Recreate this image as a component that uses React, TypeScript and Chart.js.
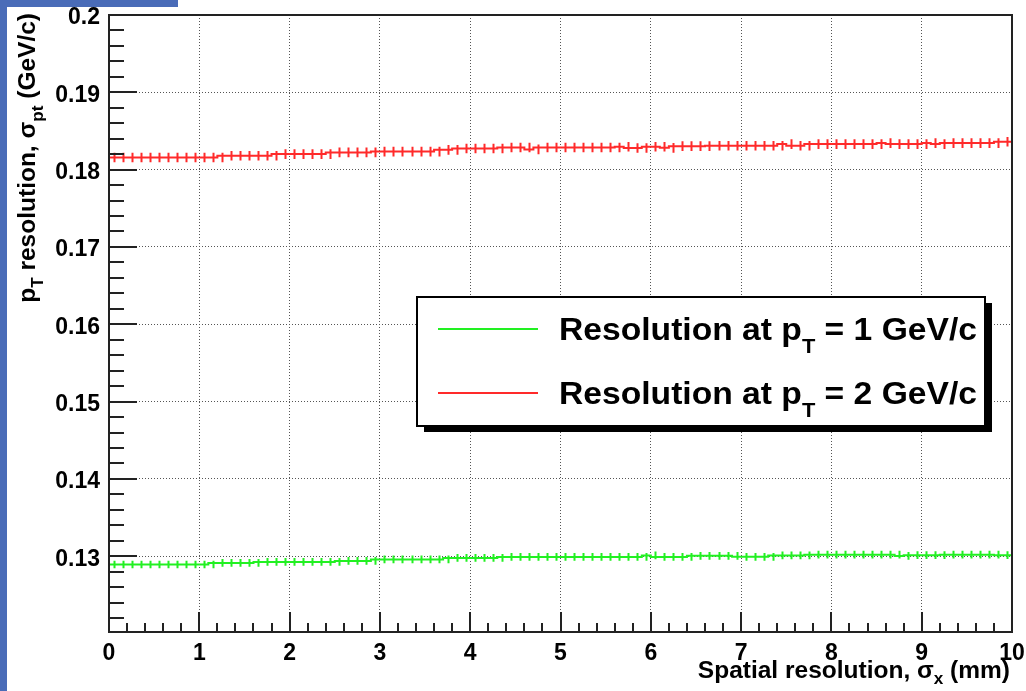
import React, { useEffect, useRef } from "react";
import { Chart, registerables } from "chart.js";

Chart.register(...registerables);

// ---------------- data ----------------
const binWidth = 0.1;
const xTicks = [0, 1, 2, 3, 4, 5, 6, 7, 8, 9, 10];
const xTickLabels = ["0", "1", "2", "3", "4", "5", "6", "7", "8", "9", "10"];
const yTicks = [0.13, 0.14, 0.15, 0.16, 0.17, 0.18, 0.19, 0.2];
const yTickLabels = ["0.13", "0.14", "0.15", "0.16", "0.17", "0.18", "0.19", "0.2"];
const legendLabels = ["1", "2"]; // p_T values in GeV/c

// Resolution at pT = 1 GeV/c (green), 100 bins from 0 to 10 mm
const green1GeV = [
  0.12893, 0.12893, 0.12893, 0.12893, 0.12893, 0.12893, 0.12893, 0.12893, 0.12893, 0.12893,
  0.12893, 0.12893, 0.12913, 0.12913, 0.12913, 0.12913, 0.12913, 0.12926, 0.12926, 0.12926,
  0.12926, 0.12926, 0.12926, 0.12926, 0.12926, 0.12926, 0.12939, 0.12939, 0.12939, 0.12939,
  0.12959, 0.12959, 0.12959, 0.12959, 0.12959, 0.12959, 0.12959, 0.12959, 0.12978, 0.12978,
  0.12978, 0.12978, 0.12978, 0.12978, 0.12991, 0.12991, 0.12991, 0.12991, 0.12991, 0.12991,
  0.12991, 0.12991, 0.12991, 0.12991, 0.12991, 0.12991, 0.12991, 0.12991, 0.12991, 0.12991,
  0.13010, 0.12991, 0.12991, 0.12991, 0.12991, 0.13006, 0.13006, 0.13006, 0.13006, 0.13006,
  0.12993, 0.12993, 0.12993, 0.12993, 0.13010, 0.13010, 0.13010, 0.13010, 0.13020, 0.13020,
  0.13020, 0.13020, 0.13020, 0.13020, 0.13020, 0.13020, 0.13020, 0.13020, 0.13004, 0.13013,
  0.13013, 0.13013, 0.13013, 0.13020, 0.13020, 0.13020, 0.13020, 0.13020, 0.13020, 0.13013,
];

// Resolution at pT = 2 GeV/c (red)
const red2GeV = [
  0.18158, 0.18158, 0.18158, 0.18158, 0.18158, 0.18158, 0.18158, 0.18158, 0.18158, 0.18158,
  0.18158, 0.18158, 0.18158, 0.18179, 0.18179, 0.18179, 0.18179, 0.18179, 0.18179, 0.18201,
  0.18201, 0.18201, 0.18201, 0.18201, 0.18201, 0.18223, 0.18223, 0.18223, 0.18223, 0.18223,
  0.18233, 0.18233, 0.18233, 0.18233, 0.18233, 0.18233, 0.18233, 0.18256, 0.18256, 0.18274,
  0.18274, 0.18274, 0.18274, 0.18274, 0.18287, 0.18287, 0.18287, 0.18262, 0.18287, 0.18287,
  0.18287, 0.18287, 0.18287, 0.18287, 0.18287, 0.18287, 0.18287, 0.18295, 0.18280, 0.18280,
  0.18295, 0.18295, 0.18282, 0.18304, 0.18304, 0.18304, 0.18304, 0.18308, 0.18308, 0.18308,
  0.18308, 0.18308, 0.18308, 0.18308, 0.18308, 0.18330, 0.18308, 0.18308, 0.18330, 0.18330,
  0.18330, 0.18330, 0.18330, 0.18330, 0.18330, 0.18330, 0.18343, 0.18330, 0.18330, 0.18330,
  0.18330, 0.18343, 0.18330, 0.18343, 0.18343, 0.18343, 0.18343, 0.18343, 0.18343, 0.18360,
];

const greenError = 0.0005;
const redError = 0.00062;

const GREEN = "#22f022";
const RED = "#ff2a2a";
const FONT = '"Liberation Sans", Arial, Helvetica, sans-serif';

type Seg = { t: string; sub?: boolean };

function toStepPoints(values: number[]) {
  const pts = values.map((v, i) => ({ x: i * binWidth, y: v }));
  pts.push({ x: values.length * binWidth, y: values[values.length - 1] });
  return pts;
}

function richWidth(ctx: CanvasRenderingContext2D, segs: Seg[], size: number, subScale: number) {
  let w = 0;
  for (const s of segs) {
    ctx.font = `bold ${s.sub ? size * subScale : size}px ${FONT}`;
    w += ctx.measureText(s.t).width;
  }
  return w;
}

function drawRich(
  ctx: CanvasRenderingContext2D,
  segs: Seg[],
  x: number,
  y: number,
  size: number,
  subScale: number,
  subDrop: number
) {
  let cx = x;
  ctx.textBaseline = "alphabetic";
  ctx.textAlign = "left";
  for (const s of segs) {
    const sz = s.sub ? size * subScale : size;
    ctx.font = `bold ${sz}px ${FONT}`;
    ctx.fillText(s.t, cx, s.sub ? y + subDrop : y);
    cx += ctx.measureText(s.t).width;
  }
}

const rootPlugin = {
  id: "rootStyle",
  beforeDraw(chart: any) {
    const ctx = chart.ctx;
    ctx.save();
    ctx.fillStyle = "#ffffff";
    ctx.fillRect(0, 0, chart.width, chart.height);
    ctx.restore();
  },
  afterDatasetsDraw(chart: any) {
    const ctx: CanvasRenderingContext2D = chart.ctx;
    const xs = chart.scales.x;
    const ys = chart.scales.y;
    const sets: [number[], number, string][] = [
      [green1GeV, greenError, GREEN],
      [red2GeV, redError, RED],
    ];
    ctx.save();
    ctx.lineWidth = 2;
    for (const [vals, err, col] of sets) {
      ctx.strokeStyle = col;
      ctx.beginPath();
      vals.forEach((v, i) => {
        const px = Math.round(xs.getPixelForValue((i + 0.5) * binWidth)) + 0.5;
        ctx.moveTo(px, ys.getPixelForValue(v + err));
        ctx.lineTo(px, ys.getPixelForValue(v - err));
      });
      ctx.stroke();
    }
    ctx.restore();
  },
  afterDraw(chart: any) {
    const ctx: CanvasRenderingContext2D = chart.ctx;
    const a = chart.chartArea;
    const xs = chart.scales.x;
    const ys = chart.scales.y;
    ctx.save();
    // ticks
    ctx.strokeStyle = "#222";
    ctx.lineWidth = 2;
    ctx.beginPath();
    const yMin = ys.min, yMax = ys.max;
    const ySub = 0.002;
    for (let k = Math.ceil(yMin / ySub - 1e-6); k <= Math.floor(yMax / ySub + 1e-6); k++) {
      const v = k * ySub;
      const major = k % 5 === 0;
      const py = Math.round(ys.getPixelForValue(v));
      ctx.moveTo(a.left, py);
      ctx.lineTo(a.left + (major ? 28 : 15), py);
    }
    const xSub = 0.2;
    for (let k = 0; k <= Math.round(10 / xSub); k++) {
      const v = k * xSub;
      const major = k % 5 === 0;
      const px = Math.round(xs.getPixelForValue(v));
      ctx.moveTo(px, a.bottom);
      ctx.lineTo(px, a.bottom - (major ? 20 : 9));
    }
    ctx.stroke();
    // frame
    ctx.strokeStyle = "#222";
    ctx.lineWidth = 2;
    ctx.strokeRect(a.left, a.top, a.right - a.left, a.bottom - a.top);

    // axis titles
    ctx.fillStyle = "#000";
    const xTitle: Seg[] = [
      { t: "Spatial resolution, σ" },
      { t: "x", sub: true },
      { t: " (mm)" },
    ];
    const tSize = 24.5;
    const wX = richWidth(ctx, xTitle, tSize, 0.7);
    drawRich(ctx, xTitle, a.right - 2 - wX, 678, tSize, 0.7, 6);

    const yTitle: Seg[] = [
      { t: "p" },
      { t: "T", sub: true },
      { t: " resolution, σ" },
      { t: "pt", sub: true },
      { t: " (GeV/c)" },
    ];
    const wY = richWidth(ctx, yTitle, tSize, 0.7);
    ctx.save();
    ctx.translate(35, a.top - 2);
    ctx.rotate(-Math.PI / 2);
    drawRich(ctx, yTitle, -wY, 0, tSize, 0.7, 8);
    ctx.restore();

    // legend
    const bx = 417, by = 297, bw = 568, bh = 129;
    ctx.fillStyle = "#000";
    ctx.fillRect(bx + 7, by + 6, bw, bh);
    ctx.fillStyle = "#fff";
    ctx.fillRect(bx, by, bw, bh);
    ctx.strokeStyle = "#000";
    ctx.lineWidth = 2;
    ctx.strokeRect(bx, by, bw, bh);
    const cols = [GREEN, RED];
    const rowsY = [329, 393];
    legendLabels.forEach((lab, i) => {
      ctx.strokeStyle = cols[i];
      ctx.lineWidth = 2;
      ctx.beginPath();
      ctx.moveTo(438, rowsY[i]);
      ctx.lineTo(538, rowsY[i]);
      ctx.stroke();
      ctx.fillStyle = "#000";
      const segs: Seg[] = [
        { t: "Resolution at p" },
        { t: "T", sub: true },
        { t: ` = ${lab} GeV/c` },
      ];
      const target = 418;
      const w = richWidth(ctx, segs, 31, 0.65);
      ctx.save();
      ctx.translate(559, rowsY[i] + 11);
      ctx.scale(target / w, 1);
      drawRich(ctx, segs, 0, 0, 31, 0.65, 13);
      ctx.restore();
    });
    ctx.restore();
  },
};

export default function App() {
  const ref = useRef<HTMLCanvasElement | null>(null);
  useEffect(() => {
    if (!ref.current) return;
    const chart = new Chart(ref.current, {
      type: "line",
      data: {
        datasets: [
          {
            label: "Resolution at pT = 1 GeV/c",
            data: toStepPoints(green1GeV),
            borderColor: GREEN,
            borderWidth: 2,
            stepped: "after",
            pointRadius: 0,
          },
          {
            label: "Resolution at pT = 2 GeV/c",
            data: toStepPoints(red2GeV),
            borderColor: RED,
            borderWidth: 2,
            stepped: "after",
            pointRadius: 0,
          },
        ],
      },
      options: {
        animation: false,
        responsive: false,
        maintainAspectRatio: false,
        layout: { padding: { top: 15, right: 14, left: 0, bottom: 0 } },
        plugins: { legend: { display: false }, tooltip: { enabled: false } },
        scales: {
          x: {
            type: "linear",
            min: 0,
            max: 10,
            afterBuildTicks: (s: any) => {
              s.ticks = xTicks.map((v) => ({ value: v }));
            },
            afterFit: (s: any) => {
              s.height = 59;
              s.paddingLeft = 0;
              s.paddingRight = 0;
            },
            grid: { color: "#555", lineWidth: 1, drawTicks: false },
            border: { display: false, dash: [1, 2] },
            ticks: {
              autoSkip: false,
              maxRotation: 0,
              padding: 8,
              color: "#000",
              font: { family: FONT, size: 23, weight: "bold" },
              callback: (v: any) => {
                const i = xTicks.indexOf(Number(v));
                return i >= 0 ? xTickLabels[i] : "";
              },
            },
          },
          y: {
            type: "linear",
            min: 0.1202,
            max: 0.2,
            afterBuildTicks: (s: any) => {
              s.ticks = yTicks.map((v) => ({ value: v }));
            },
            afterFit: (s: any) => {
              s.width = 109;
              s.paddingTop = 0;
              s.paddingBottom = 0;
            },
            grid: { color: "#555", lineWidth: 1, drawTicks: false },
            border: { display: false, dash: [1, 2] },
            ticks: {
              autoSkip: false,
              padding: 9,
              labelOffset: 3,
              color: "#000",
              font: { family: FONT, size: 23, weight: "bold" },
              callback: (v: any) => {
                const i = yTicks.findIndex((t) => Math.abs(t - Number(v)) < 1e-9);
                return i >= 0 ? yTickLabels[i] : "";
              },
            },
          },
        },
      },
      plugins: [rootPlugin],
    } as any);
    return () => chart.destroy();
  }, []);

  return (
    <div style={{ position: "fixed", left: 0, top: 0, width: 1026, height: 691, background: "#fff", overflow: "hidden" }}>
      <canvas ref={ref} width={1026} height={691} style={{ display: "block", width: 1026, height: 691 }} />
      <div style={{ position: "absolute", left: 0, top: 0, width: 7, height: 691, background: "#4a6cb8" }} />
      <div style={{ position: "absolute", left: 0, top: 0, width: 178, height: 7, background: "#4a6cb8" }} />
    </div>
  );
}
